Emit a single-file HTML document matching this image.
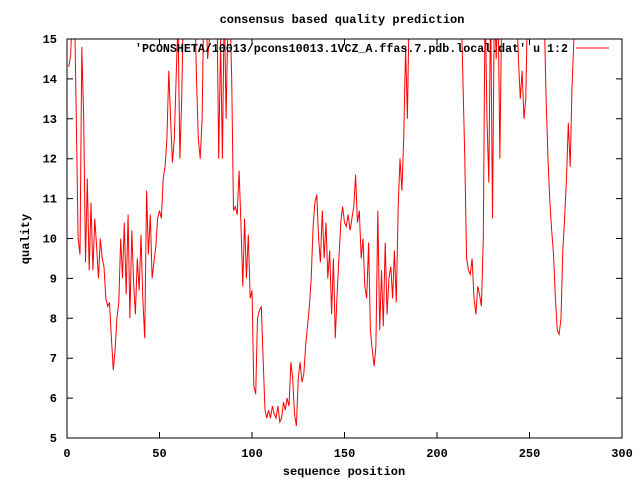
<!DOCTYPE html>
<html><head><meta charset="utf-8"><style>
body{margin:0;background:#fff}
svg text{font-family:"Liberation Mono",monospace;font-size:12px;font-weight:bold;fill:#000}
</style></head><body>
<svg id="chart" width="640" height="480" xmlns="http://www.w3.org/2000/svg">
<defs><clipPath id="pc"><rect x="67" y="39" width="555" height="399"/></clipPath></defs>
<rect x="0" y="0" width="640" height="480" fill="#fff"/>
<text x="342" y="23" text-anchor="middle">consensus based quality prediction</text>
<text x="344" y="475" text-anchor="middle">sequence position</text>
<text transform="translate(29,239) rotate(-90)" text-anchor="middle">quality</text>
<g id="axes"></g>
<g id="series" clip-path="url(#pc)"></g>
<rect x="67" y="39" width="555" height="399" fill="none" stroke="#000" stroke-width="1"/>
<text x="135" y="52" textLength="433" lengthAdjust="spacingAndGlyphs">'PCONSHETA/10013/pcons10013.1VCZ_A.ffas.7.pdb.local.dat' u 1:2</text>
<line x1="576" y1="48" x2="609" y2="48" stroke="#f00" stroke-width="1"/>
</svg>
<script>
const xTicks=[0,50,100,150,200,250,300];
const yTicks=[5,6,7,8,9,10,11,12,13,14,15];
const quality=[14.3,14.6,16,16,13,10,9.6,14.8,13,9.4,11.5,9.2,10.9,9.2,10.5,9.8,9,10,9.5,9.3,8.5,8.3,8.4,7.5,6.7,7.2,8,8.4,10,9,10.4,8.6,10.6,8,10.2,8.9,8.1,9.5,8.7,10.1,8.5,7.5,11.2,9.6,10.6,9,9.4,9.8,10.5,10.7,10.5,11.5,11.8,12.5,14.2,13,11.9,12.5,14,15.5,12,13.5,16,16,16,16,16,16,16,14,12.5,12,13,16,16,14.5,15,16,16,16,16,12,15,12,16,13,15.5,16,14,10.7,10.8,10.6,11.7,10.4,8.8,10.5,9,10.1,8.5,8.7,6.3,6.1,8,8.2,8.3,7,5.7,5.5,5.7,5.5,5.8,5.6,5.5,5.8,5.4,5.5,5.9,5.7,6,5.8,6.9,6.5,5.6,5.3,6.5,6.9,6.4,6.6,7.3,7.8,8.3,9,10.3,10.9,11.1,10,9.4,10.7,9.5,10.4,9,9.7,8.1,9.5,7.5,8.6,9.5,10.4,10.8,10.4,10.3,10.6,10.2,10.5,10.8,11.6,10.4,10.7,9.5,10,8.8,8.5,9.9,7.7,7.2,6.8,7.3,10.7,7.7,9.2,7.8,9.9,8.1,9,9.3,8.5,9.7,8.4,10.8,12,11.2,12.5,14.8,13,16,16,16,16,16,16,16,16,16,16,16,16,16,16,16,16,16,16,16,16,16,16,16,16,16,16,16,16,16,14,12,9.5,9.2,9.1,9.5,8.5,8.1,8.8,8.6,8.3,10,16,13,11.4,16,10.5,16,14.5,16,12,16,16,16,16,16,16,16,16,16,14.5,13.5,14.2,13,13.5,16,16,16,16,16,16,16,16,16,15.5,13.5,12,10.9,10.2,9.6,8.5,7.7,7.6,8,9.7,10.5,11.5,12.9,11.8,13.8,15,16];
const X0=67,X1=622,Y0=438,Y1=39;
const sx=v=>X0+(v-0)/300*(X1-X0);
const sy=v=>Y0-(v-5)/10*(Y0-Y1);
const NS="http://www.w3.org/2000/svg";
const axes=document.getElementById('axes');
xTicks.forEach(t=>{
  const x=sx(t);
  const l=document.createElementNS(NS,'path');
  l.setAttribute('d',`M${x},${Y0}v-6M${x},${Y1}v6`);l.setAttribute('stroke','#000');
  
  
  axes.appendChild(l);
  const tx=document.createElementNS(NS,'text');
  tx.setAttribute('x',x);tx.setAttribute('y',457);tx.setAttribute('text-anchor','middle');tx.textContent=t;
  
  
  axes.appendChild(tx);
});
yTicks.forEach(t=>{
  const y=sy(t);
  const l=document.createElementNS(NS,'path');
  l.setAttribute('d',`M${X0},${y}h6M${X1},${y}h-6`);l.setAttribute('stroke','#000');
  
  
  axes.appendChild(l);
  const tx=document.createElementNS(NS,'text');
  tx.setAttribute('x',57);tx.setAttribute('y',y+4);tx.setAttribute('text-anchor','end');tx.textContent=t;
  
  
  axes.appendChild(tx);
});
const pts=quality.map((v,i)=>`${sx(i+1).toFixed(1)},${sy(v).toFixed(1)}`).join(' ');
const pl=document.createElementNS(NS,'polyline');
pl.setAttribute('points',pts);pl.setAttribute('fill','none');pl.setAttribute('stroke','#f00');pl.setAttribute('stroke-width','1');


document.getElementById('series').appendChild(pl);
</script>
</body></html>
